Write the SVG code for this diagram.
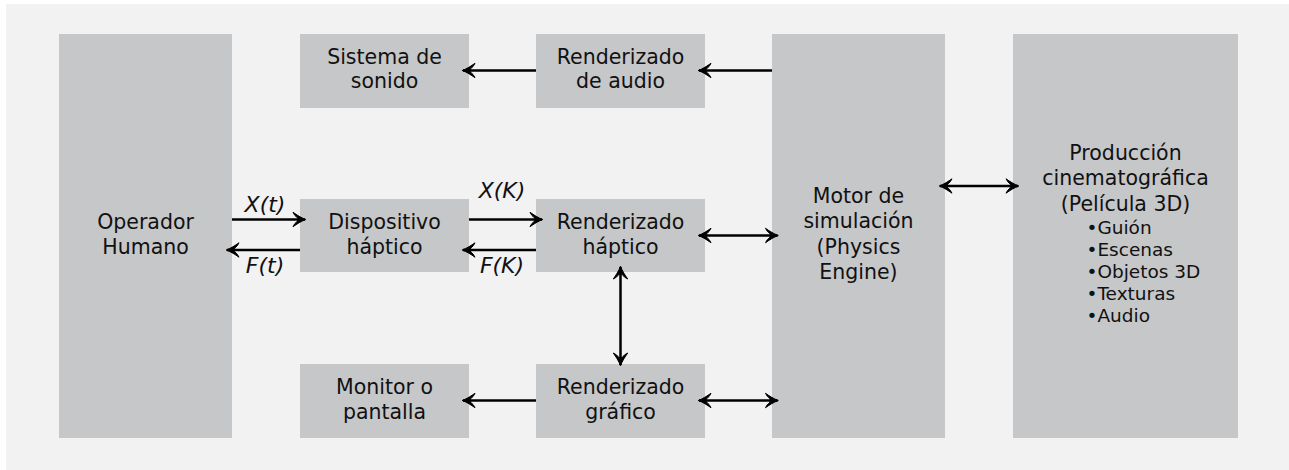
<svg xmlns="http://www.w3.org/2000/svg" width="1289" height="470" viewBox="0 0 1289 470">
<style>
.box{fill:#c6c7c9}
.t{font-family:"DejaVu Sans",Verdana,sans-serif;font-size:20.5px;fill:#111;text-anchor:middle}
.b{font-family:"DejaVu Sans",Verdana,sans-serif;font-size:18.5px;fill:#111}
.lbl{font-family:"DejaVu Sans",Verdana,sans-serif;font-size:22px;font-style:italic;fill:#111;text-anchor:middle}
.c line{stroke:#000;stroke-width:2.5;fill:none}
</style>
<defs>
<marker id="ah" markerUnits="userSpaceOnUse" markerWidth="16" markerHeight="16" viewBox="-13 -8 14 16" refX="0" refY="0" orient="auto-start-reverse" overflow="visible">
<path d="M0.8,0 C-4,-1.8 -8,-4.4 -12,-7.2 L-10.2,-4.2 C-8.2,-2.4 -7,-1.2 -7,0 C-7,1.2 -8.2,2.4 -10.2,4.2 L-12,7.2 C-8,4.4 -4,1.8 0.8,0 Z" fill="#000" stroke="#000" stroke-width="1" stroke-linejoin="round"/>
</marker>
</defs>
<rect x="6" y="4" width="1283" height="466" fill="#f2f2f2"/>
<g id="operador"><rect class="box" x="59" y="34" width="173" height="404"/><text class="t" x="145.5" y="228.5">Operador</text><text class="t" x="145.5" y="253.5">Humano</text></g>
<g id="sistema-sonido"><rect class="box" x="300" y="34" width="169" height="74"/><text class="t" x="384.5" y="63.5">Sistema de</text><text class="t" x="384.5" y="88">sonido</text></g>
<g id="render-audio"><rect class="box" x="536" y="34" width="169" height="74"/><text class="t" x="620.5" y="63.5">Renderizado</text><text class="t" x="620.5" y="88">de audio</text></g>
<g id="dispositivo"><rect class="box" x="300" y="199" width="169" height="73"/><text class="t" x="384.5" y="228.5">Dispositivo</text><text class="t" x="384.5" y="253.5">háptico</text></g>
<g id="render-haptico"><rect class="box" x="536" y="199" width="169" height="73"/><text class="t" x="620.5" y="228.5">Renderizado</text><text class="t" x="620.5" y="253.5">háptico</text></g>
<g id="monitor"><rect class="box" x="300" y="364" width="169" height="74"/><text class="t" x="384.5" y="394">Monitor o</text><text class="t" x="384.5" y="419">pantalla</text></g>
<g id="render-grafico"><rect class="box" x="536" y="364" width="169" height="74"/><text class="t" x="620.5" y="394">Renderizado</text><text class="t" x="620.5" y="419">gráfico</text></g>
<g id="motor"><rect class="box" x="772" y="34" width="173" height="404"/><text class="t" x="858.5" y="203">Motor de</text><text class="t" x="858.5" y="228">simulación</text><text class="t" x="858.5" y="253.5">(Physics</text><text class="t" x="858.5" y="279">Engine)</text></g>
<g id="produccion"><rect class="box" x="1013" y="34" width="225" height="404"/><text class="t" x="1125.5" y="160">Producción</text><text class="t" x="1125.5" y="185">cinematográfica</text><text class="t" x="1125.5" y="210.5">(Película 3D)</text>
<text class="b" x="1086.5" y="233.5">•Guión</text><text class="b" x="1086.5" y="255.5">•Escenas</text><text class="b" x="1086.5" y="278">•Objetos 3D</text><text class="b" x="1086.5" y="300">•Texturas</text><text class="b" x="1086.5" y="322">•Audio</text></g>
<g id="connectors" class="c">
<line x1="772" y1="70.5" x2="699" y2="70.5" marker-end="url(#ah)"/>
<line x1="536" y1="70.5" x2="463" y2="70.5" marker-end="url(#ah)"/>
<line x1="232" y1="219.5" x2="305" y2="219.5" marker-end="url(#ah)"/>
<line x1="300" y1="250" x2="227" y2="250" marker-end="url(#ah)"/>
<line x1="469" y1="219.5" x2="542" y2="219.5" marker-end="url(#ah)"/>
<line x1="536" y1="250" x2="463" y2="250" marker-end="url(#ah)"/>
<line x1="699" y1="235.5" x2="777.5" y2="235.5" marker-start="url(#ah)" marker-end="url(#ah)"/>
<line x1="620.5" y1="267" x2="620.5" y2="365" marker-start="url(#ah)" marker-end="url(#ah)"/>
<line x1="536" y1="400.5" x2="463" y2="400.5" marker-end="url(#ah)"/>
<line x1="699" y1="400.5" x2="777.5" y2="400.5" marker-start="url(#ah)" marker-end="url(#ah)"/>
<line x1="940" y1="186" x2="1018" y2="186" marker-start="url(#ah)" marker-end="url(#ah)"/>
</g>
<g id="labels">
<text class="lbl" x="265" y="212">X(t)</text>
<text class="lbl" x="265" y="272.5">F(t)</text>
<text class="lbl" x="502" y="198">X(K)</text>
<text class="lbl" x="502" y="273">F(K)</text>
</g>
</svg>
